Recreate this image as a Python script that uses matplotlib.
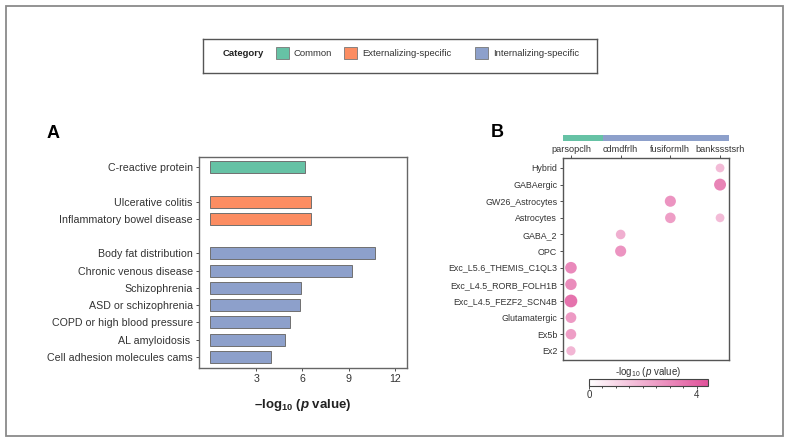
import matplotlib
matplotlib.use('Agg')
import matplotlib.pyplot as plt
import numpy as np
from matplotlib.colors import LinearSegmentedColormap
from matplotlib.patches import Rectangle

plt.rcParams['font.family'] = ['Liberation Sans', 'DejaVu Sans']
plt.rcParams['mathtext.fontset'] = 'custom'
plt.rcParams['mathtext.rm'] = 'Liberation Sans'
plt.rcParams['mathtext.it'] = 'Liberation Sans:italic'
plt.rcParams['mathtext.bf'] = 'Liberation Sans:bold'
plt.rcParams['mathtext.bfit'] = 'Liberation Sans:bold:italic'

# ---- data ----
categories = ['Common', 'Externalizing-specific', 'Internalizing-specific']
cat_colors = ['#66c2a5', '#fc8d62', '#8da0cb']

traits = ['C-reactive protein', 'Ulcerative colitis', 'Inflammatory bowel disease',
          'Body fat distribution', 'Chronic venous disease', 'Schizophrenia',
          'ASD or schizophrenia', 'COPD or high blood pressure', 'AL amyloidosis ',
          'Cell adhesion molecules cams']
trait_pos = [0, 2, 3, 5, 6, 7, 8, 9, 10, 11]
trait_cat = [0, 1, 1, 2, 2, 2, 2, 2, 2, 2]
trait_logp = [6.15, 6.55, 6.55, 10.7, 9.2, 5.9, 5.85, 5.2, 4.9, 3.95]

regions = ['parsopclh', 'cdmdfrlh', 'fusiformlh', 'bankssstsrh']
region_cat_bounds = [-0.2, 0.62, 3.2]   # strip: Common | Internalizing
region_cat = [0, 2]
cell_types = ['Hybrid', 'GABAergic', 'GW26_Astrocytes', 'Astrocytes', 'GABA_2', 'OPC',
              'Exc_L5.6_THEMIS_C1QL3', 'Exc_L4.5_RORB_FOLH1B', 'Exc_L4.5_FEZF2_SCN4B',
              'Glutamatergic', 'Ex5b', 'Ex2']
dot_region = [3, 3, 2, 2, 3, 1, 1, 0, 0, 0, 0, 0, 0]
dot_cell = [0, 1, 2, 3, 3, 4, 5, 6, 7, 8, 9, 10, 11]
dot_logp = [2.0, 3.7, 3.2, 2.9, 2.0, 2.4, 3.2, 3.5, 3.4, 4.2, 3.0, 2.9, 2.2]

fig = plt.figure(figsize=(7.91, 4.44), dpi=100)

# outer frame
fig.patches.append(Rectangle((6 / 791, 8 / 444), 777 / 791, 430 / 444, transform=fig.transFigure,
                             fill=False, edgecolor='#8a8a8a', linewidth=1.3))

# ---- legend box ----
lax = fig.add_axes([203 / 791, 1 - 73 / 444, 394 / 791, 34 / 444])
lax.set_xlim(203, 597)
lax.set_ylim(73, 39)
lax.set_xticks([])
lax.set_yticks([])
for s in lax.spines.values():
    s.set_color('#555555')
    s.set_linewidth(1.0)
lax.text(223, 53.5, 'Category', fontsize=6.8, fontweight='bold', va='center', color='#222222')
patch_x = [276, 344, 475]
for px, lab, col in zip(patch_x, categories, cat_colors):
    lax.add_patch(Rectangle((px, 47), 13, 12.5, facecolor=col, edgecolor='#777777', linewidth=0.6))
    lax.text(px + 18, 53.5, lab, fontsize=6.8, va='center', color='#333333')

# ---- panel A ----
axA = fig.add_axes([199 / 791, 1 - 368 / 444, 208 / 791, 211 / 444])
axA.barh(trait_pos, trait_logp, height=0.7, color=[cat_colors[c] for c in trait_cat],
         edgecolor='#707070', linewidth=0.7)
axA.set_ylim(11.64, -0.58)
axA.set_xlim(-0.72, 12.8)
axA.set_yticks(trait_pos)
axA.set_yticklabels(traits, fontsize=7.7, color='#333333')
axA.set_xticks([3, 6, 9, 12])
axA.tick_params(axis='x', labelsize=7.7, colors='#333333', length=2.5, width=0.6, pad=2)
axA.tick_params(axis='y', length=2.5, width=0.6, pad=2, colors='#333333')
for s in axA.spines.values():
    s.set_color('#666666')
    s.set_linewidth(1.0)
axA.set_xlabel('$\\mathbf{\u2013log_{10}\\ (}\\mathbfit{p}\\mathbf{\\ value)}$', fontsize=9.5,
               labelpad=9, color='#222222')
fig.text(47 / 791, 1 - 133 / 444, 'A', fontsize=13, fontweight='bold', va='center')

# ---- panel B ----
pink = LinearSegmentedColormap.from_list('pk', ['#ffffff', '#e0529a'])
vmax = 4.41
axB = fig.add_axes([563 / 791, 1 - 360 / 444, 166 / 791, 202 / 444])
vals = np.array(dot_logp)
sizes = 40 + (vals - 2.0) * 20
axB.scatter(dot_region, dot_cell, s=sizes, c=vals, cmap=pink, vmin=0, vmax=vmax,
            alpha=0.85, edgecolors='none', zorder=3)
axB.set_xlim(-0.16, 3.18)
axB.set_ylim(11.55, -0.6)
axB.set_xticks(range(len(regions)))
axB.set_xticklabels(regions, fontsize=6.6, color='#333333')
axB.xaxis.tick_top()
axB.set_yticks(range(len(cell_types)))
axB.set_yticklabels(cell_types, fontsize=6.4, color='#333333')
axB.tick_params(axis='both', length=2.2, width=0.6, pad=2, colors='#333333')
axB.tick_params(axis='x', pad=0.5)
for s in axB.spines.values():
    s.set_color('#555555')
    s.set_linewidth(1.0)
fig.text(491 / 791, 1 - 132 / 444, 'B', fontsize=13, fontweight='bold', va='center')

# category strip above panel B
sax = fig.add_axes([563 / 791, 1 - 141 / 444, 166 / 791, 6 / 444])
for i, c in enumerate(region_cat):
    sax.barh(0, region_cat_bounds[i + 1] - region_cat_bounds[i], left=region_cat_bounds[i],
             height=1, color=cat_colors[c], edgecolor='none')
sax.set_xlim(-0.2, 3.18)
sax.set_ylim(-0.5, 0.5)
sax.axis('off')

# colorbar
cax = fig.add_axes([589 / 791, 1 - 386 / 444, 119 / 791, 7 / 444])
sm = plt.cm.ScalarMappable(cmap=pink, norm=plt.Normalize(0, vmax))
cb = fig.colorbar(sm, cax=cax, orientation='horizontal')
cb.set_ticks([0, 4])
cb.ax.tick_params(labelsize=7, length=2, width=0.6, pad=1, colors='#333333')
cb.ax.xaxis.set_minor_locator(matplotlib.ticker.MultipleLocator(0.5))
cb.ax.tick_params(which='minor', length=1.5, width=0.5)
cb.outline.set_linewidth(0.8)
cb.outline.set_edgecolor('#444444')
fig.text(648 / 791, 1 - 372 / 444, r'-log$_{10}$ ($\it{p}$ value)', fontsize=7, ha='center',
         va='center', color='#333333')

fig.savefig('out.png', dpi=100)
